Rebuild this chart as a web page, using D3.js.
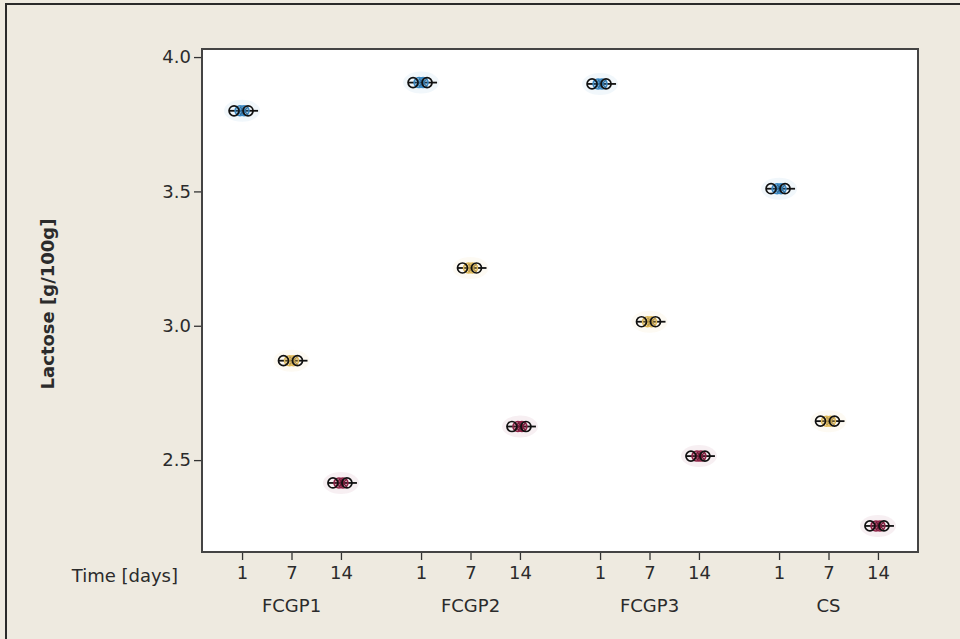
<!DOCTYPE html>
<html>
<head>
<meta charset="utf-8">
<script src="https://cdn.jsdelivr.net/npm/d3@7"></script>
<style>
  html, body { margin: 0; padding: 0; background: #eeeae0; }
  svg text { font-family: "DejaVu Sans", sans-serif; fill: #2b2b2b; }
</style>
</head>
<body>
<div id="chart"></div>
<script>
// chart data
let groups = ["FCGP1", "FCGP2", "FCGP3", "CS"];
let days   = ["1", "7", "14"];
let lactoseDay1  = [3.80, 3.905, 3.90, 3.51];
let lactoseDay7  = [2.87, 3.215, 3.015, 2.645];
let lactoseDay14 = [2.415, 2.625, 2.515, 2.255];
let yTicks = [2.5, 3.0, 3.5, 4.0];

let dayColors = ["#3a88c2", "#dfb95a", "#8c2245"];

let width  = 960,
    height = 639;

let margin = {
  top:    49,
  right:  42,
  bottom: 87,
  left:   202
};

let innerWidth  = width - margin.left - margin.right,
    innerHeight = height - margin.top - margin.bottom;

let svg =
  d3.select("#chart")
    .append("svg")
      .attr("width", width)
      .attr("height", height)
      .style("display", "block");

// window frame
svg.append("rect")
    .attr("x", 0).attr("y", 0)
    .attr("width", width).attr("height", height)
    .attr("fill", "#eeeae0");
svg.append("path")
    .attr("d", "M6,639 V4 H960")
    .attr("fill", "none")
    .attr("stroke", "#2a2a2a")
    .attr("stroke-width", 2);

let g =
  svg.append("g")
    .attr("transform", translate(margin.left, margin.top));

let x =
  d3.scaleBand()
    .domain(groups)
    .range([0, innerWidth]);

let xDay =
  d3.scalePoint()
    .domain(days)
    .range([0, x.bandwidth()])
    .padding(0.81);

let y =
  d3.scaleLinear()
    .domain([2.158, 4.03])
    .range([innerHeight, 0]);

g.append("rect")
    .attr("width", innerWidth)
    .attr("height", innerHeight)
    .attr("fill", "#ffffff");

// y axis
let yAxis =
  g.append("g")
    .call(d3.axisLeft(y)
            .tickValues(yTicks)
            .tickFormat(d3.format(".1f"))
            .tickSize(8)
            .tickPadding(3))
    .attr("font-family", "DejaVu Sans")
    .attr("font-size", 18);
yAxis.select(".domain").remove();
yAxis.selectAll("line").attr("stroke", "#333").attr("stroke-width", 1.3);
yAxis.selectAll("text").attr("fill", "#2b2b2b");

// x axes, one per group
groups.forEach(function(grp) {
  let ax =
    g.append("g")
      .attr("transform", translate(x(grp), innerHeight))
      .call(d3.axisBottom(xDay).tickSize(8).tickPadding(6))
      .attr("font-family", "DejaVu Sans")
      .attr("font-size", 18);
  ax.select(".domain").remove();
  ax.selectAll("line").attr("stroke", "#333").attr("stroke-width", 1.3);
  ax.selectAll("text").attr("fill", "#2b2b2b");

  g.append("text")
      .attr("x", x(grp) + x.bandwidth() / 2)
      .attr("y", innerHeight + 60)
      .attr("text-anchor", "middle")
      .attr("font-size", 18)
      .text(grp);
});

g.append("text")
    .attr("x", -24)
    .attr("y", innerHeight + 30)
    .attr("text-anchor", "end")
    .attr("font-size", 18)
    .text("Time [days]");

// y title
svg.append("text")
    .attr("transform", translate(54, 304) + " rotate(-90)")
    .attr("text-anchor", "middle")
    .attr("font-size", 18)
    .attr("font-weight", "bold")
    .attr("fill", "#111")
    .text("Lactose [g/100g]");

// points
let series = [lactoseDay1, lactoseDay7, lactoseDay14];
let points = [];
groups.forEach(function(grp, gi) {
  days.forEach(function(day, di) {
    points.push({ group: grp, day: day, value: series[di][gi], color: dayColors[di] });
  });
});

let marks =
  g.selectAll(".mark")
    .data(points)
    .enter()
    .append("g")
      .attr("class", "mark")
      .attr("transform", function(d) { return translate(x(d.group) + xDay(d.day), y(d.value)); });

marks.append("ellipse")
    .attr("rx", 18).attr("ry", 11)
    .attr("fill", function(d) { return d.color; })
    .attr("opacity", 0.07);

marks.append("line")
    .attr("x1", -13).attr("x2", 16)
    .attr("stroke", "#111")
    .attr("stroke-width", 1.8);

// replicate symbols, jittered sideways
[-2, 2].forEach(function(dx) {
  marks.append("circle")
      .attr("cx", dx)
      .attr("r", 5)
      .attr("fill", function(d) { return d.color; })
      .attr("fill-opacity", 0.35)
      .attr("stroke", function(d) { return d.color; })
      .attr("stroke-width", 1.5);
  marks.append("path")
      .attr("d", "M" + (dx - 4) + ",-4 L" + (dx + 4) + ",4 M" + (dx - 4) + ",4 L" + (dx + 4) + ",-4")
      .attr("stroke", function(d) { return d3.color(d.color).darker(0.6); })
      .attr("stroke-width", 1.2);
});

[-8, 6].forEach(function(dx) {
  marks.append("circle")
      .attr("cx", dx)
      .attr("r", 5)
      .attr("fill", "none")
      .attr("stroke", "#111")
      .attr("stroke-width", 1.7);
});

// plot frame
g.append("rect")
    .attr("width", innerWidth)
    .attr("height", innerHeight)
    .attr("fill", "none")
    .attr("stroke", "#444")
    .attr("stroke-width", 2);

function translate(x, y=0) {
  return "translate({x}, {y})"
          .replace("{x}", x)
          .replace("{y}", y);
}
</script>
</body>
</html>
